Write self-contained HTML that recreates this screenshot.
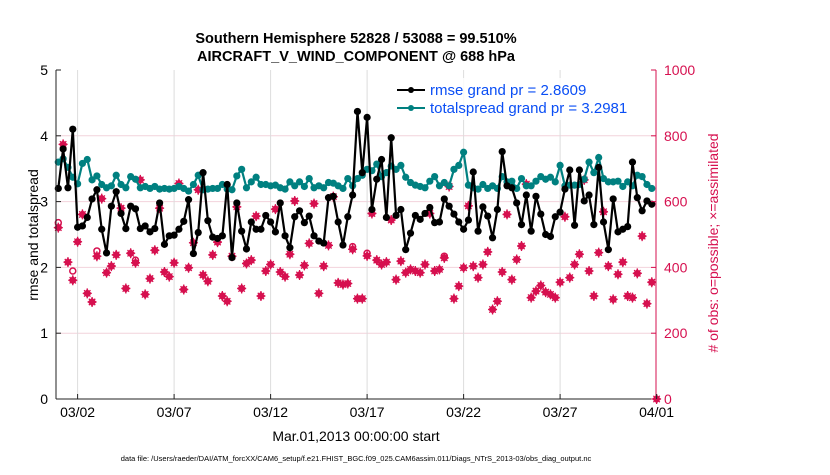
<!DOCTYPE html>
<html><head><meta charset="utf-8"><style>
body{margin:0;background:#fff;width:830px;height:470px;overflow:hidden;font-family:"Liberation Sans",Arial,sans-serif}
svg text{font-family:"Liberation Sans",Arial,sans-serif}
</style></head><body>
<svg id="chart" width="830" height="470" viewBox="0 0 830 470" xmlns="http://www.w3.org/2000/svg">
<g id="grid"></g>
<g id="series"></g>
<g id="axes"></g>
<text x="356" y="43" text-anchor="middle" font-size="14.5" font-weight="bold">Southern Hemisphere 52828 / 53088 = 99.510%</text>
<text x="356" y="61" text-anchor="middle" font-size="14.5" font-weight="bold">AIRCRAFT_V_WIND_COMPONENT @ 688 hPa</text>
<text transform="translate(38,235) rotate(-90)" text-anchor="middle" font-size="14">rmse and totalspread</text>
<text transform="translate(718,243) rotate(-90)" text-anchor="middle" font-size="14" fill="#d6104f"># of obs: o=possible; ×=assimilated</text>
<text x="356" y="441" text-anchor="middle" font-size="14">Mar.01,2013 00:00:00 start</text>
<text x="356" y="461" text-anchor="middle" font-size="7.5">data file: /Users/raeder/DAI/ATM_forcXX/CAM6_setup/f.e21.FHIST_BGC.f09_025.CAM6assim.011/Diags_NTrS_2013-03/obs_diag_output.nc</text>
<g>
<rect x="390" y="78" width="258" height="42" fill="#fff" fill-opacity="0.85"/>
<line x1="397" y1="90" x2="425" y2="90" stroke="#000" stroke-width="2"/><circle cx="411" cy="90" r="3" fill="#000"/>
<text x="430" y="95" font-size="15" fill="#0a4ef5">rmse grand pr = 2.8609</text>
<line x1="397" y1="108" x2="425" y2="108" stroke="#008080" stroke-width="2"/><circle cx="411" cy="108" r="3" fill="#008080"/>
<text x="430" y="113" font-size="15" fill="#0a4ef5">totalspread grand pr = 3.2981</text>
</g>
</svg>
<script>
const rmse=[3.20,3.80,3.21,4.10,2.61,2.63,2.76,3.04,3.18,2.58,2.22,2.93,3.15,2.82,2.59,2.93,2.89,2.59,2.63,2.54,2.59,2.98,2.35,2.48,2.49,2.58,2.70,3.03,2.21,2.53,3.44,2.71,2.46,2.44,2.48,3.26,2.15,2.98,2.55,2.28,2.69,2.58,2.58,
2.79,2.69,2.54,2.98,2.48,2.30,2.77,2.86,2.68,2.78,2.48,2.40,2.37,3.06,3.08,2.69,2.34,2.77,3.10,4.37,3.44,4.28,2.88,3.34,3.64,2.76,3.97,2.79,2.88,2.27,2.52,2.79,2.73,2.82,2.91,2.68,2.69,3.04,2.93,2.81,2.69,
2.58,2.72,3.45,2.55,2.92,2.78,2.45,2.88,3.76,3.24,3.21,2.98,2.65,3.10,2.55,3.08,2.81,2.50,2.47,2.77,2.84,3.19,3.48,2.64,3.48,3.01,3.10,2.65,3.52,2.69,2.27,3.04,2.54,2.58,2.62,3.60,3.06,2.86,3.01,2.96];
const spread=[3.60,3.65,3.52,3.37,3.27,3.58,3.64,3.33,3.39,3.26,3.21,3.24,3.40,3.26,3.21,3.38,3.34,3.21,3.23,3.20,3.23,3.19,3.20,3.19,3.20,3.23,3.20,3.16,3.26,3.40,3.18,3.19,3.20,3.20,3.26,3.19,3.18,3.39,3.49,3.21,3.30,3.37,3.26,
3.26,3.24,3.25,3.21,3.19,3.30,3.24,3.30,3.23,3.35,3.21,3.24,3.21,3.29,3.28,3.24,3.20,3.35,3.24,3.35,3.40,3.49,3.47,3.57,3.38,3.44,3.54,3.49,3.55,3.37,3.29,3.25,3.23,3.21,3.31,3.38,3.24,3.29,3.24,3.49,3.55,
3.75,3.25,3.21,3.19,3.26,3.20,3.24,3.20,3.38,3.30,3.31,3.20,3.35,3.24,3.24,3.31,3.38,3.34,3.37,3.30,3.55,3.24,3.25,3.25,3.26,3.34,3.60,3.44,3.67,3.35,3.30,3.30,3.31,3.23,3.30,3.24,3.40,3.38,3.26,3.20];
const obsAssim=[521,774,416,361,478,561,321,295,434,609,384,404,438,580,336,443,414,666,318,366,452,580,386,372,414,655,333,399,475,636,377,358,438,477,313,297,434,584,336,412,422,556,313,
389,409,577,386,372,440,602,377,406,473,594,321,404,467,615,353,348,351,455,305,305,435,564,422,409,416,544,363,419,384,394,389,384,409,564,389,394,429,646,305,343,
399,587,404,369,409,447,272,297,386,561,363,424,465,653,308,328,345,325,318,308,355,554,369,409,440,666,389,313,445,569,404,303,379,416,313,308,382,495,290,355,0];
const obsPoss=obsAssim.map((v,i)=>v);
obsPoss[0]=536;obsPoss[3]=389;obsPoss[8]=450;obsPoss[16]=422;obsPoss[61]=463;obsPoss[64]=443;obsPoss[80]=434;
const xTicks=[1,6,11,16,21,26,31];
const xTickLabels=["03/02","03/07","03/12","03/17","03/22","03/27","04/01"];
const yTicks=[0,1,2,3,4,5];
const y2Ticks=[0,200,400,600,800,1000];

const NS="http://www.w3.org/2000/svg";
const L=56,R=656,T=70,B=399;
const xs=d=>58.3+19.3*d;
const ys=v=>B-(B-T)*v/5;
const ys2=v=>B-(B-T)*v/1000;
function mk(tag,attrs,parent){const e=document.createElementNS(NS,tag);for(const k in attrs)e.setAttribute(k,attrs[k]);parent.appendChild(e);return e;}
const grid=document.getElementById('grid'),ser=document.getElementById('series'),ax=document.getElementById('axes');
mk('rect',{x:L,y:T,width:R-L,height:B-T,fill:'#fff'},grid);
yTicks.forEach(v=>{if(v>0&&v<5){const g=mk('line',{x1:L,x2:R,y1:ys(v),y2:ys(v),stroke:'#f2d3dc','stroke-width':1},grid);

}});
xTicks.forEach(d=>{if(d<31){const g=mk('line',{x1:xs(d),x2:xs(d),y1:T,y2:B,stroke:'#dcdcdc','stroke-width':1},grid);

}});
obsAssim.forEach((v,i)=>{const x=xs(i/4),y=ys2(v);const g=mk('g',{},ser);


mk('path',{d:`M${x-4.5},${y}L${x},${y-4.5}L${x+4.5},${y}L${x},${y+4.5}Z`,fill:'#d6104f'},g);
mk('path',{d:`M${x-4.5},${y}H${x+4.5}M${x},${y-5}V${y+5}M${x-3.2},${y-3.2}L${x+3.2},${y+3.2}M${x-3.2},${y+3.2}L${x+3.2},${y-3.2}`,stroke:'#d6104f','stroke-width':1.3},g);});
obsPoss.forEach((v,i)=>{if(v!==obsAssim[i]){const c=mk('circle',{cx:xs(i/4),cy:ys2(v),r:3,fill:'none',stroke:'#d6104f','stroke-width':1.5},ser);

}});
function line(arr,col,name){const p=arr.map((v,i)=>`${i?'L':'M'}${xs(i/4).toFixed(1)},${ys(v).toFixed(1)}`).join('');
const pl=mk('path',{d:p,fill:'none',stroke:col,'stroke-width':2.2},ser);


arr.forEach((v,i)=>{const c=mk('circle',{cx:xs(i/4),cy:ys(v),r:3.6,fill:col},ser);

});}
line(spread,'#008080','totalspread');
line(rmse,'#000','rmse');
mk('line',{x1:L,x2:L,y1:T,y2:B,stroke:'#222','stroke-width':1},ax);
mk('line',{x1:L,x2:R,y1:B,y2:B,stroke:'#222','stroke-width':1},ax);
mk('line',{x1:R,x2:R,y1:T,y2:B,stroke:'#d6104f','stroke-width':1},ax);
yTicks.forEach(v=>{mk('line',{x1:L,x2:L+5,y1:ys(v),y2:ys(v),stroke:'#222'},ax);
const t=mk('text',{x:L-8,y:ys(v)+5,'text-anchor':'end','font-size':14},ax);t.textContent=v;

});
y2Ticks.forEach(v=>{mk('line',{x1:R-5,x2:R,y1:ys2(v),y2:ys2(v),stroke:'#d6104f'},ax);
const t=mk('text',{x:R+8,y:ys2(v)+5,'font-size':14,fill:'#d6104f'},ax);t.textContent=v;

});
xTicks.forEach((d,i)=>{mk('line',{x1:xs(d),x2:xs(d),y1:B,y2:B-5,stroke:'#222'},ax);
const t=mk('text',{x:xs(d),y:B+18,'text-anchor':'middle','font-size':14},ax);t.textContent=xTickLabels[i];

});
</script>
</body></html>
